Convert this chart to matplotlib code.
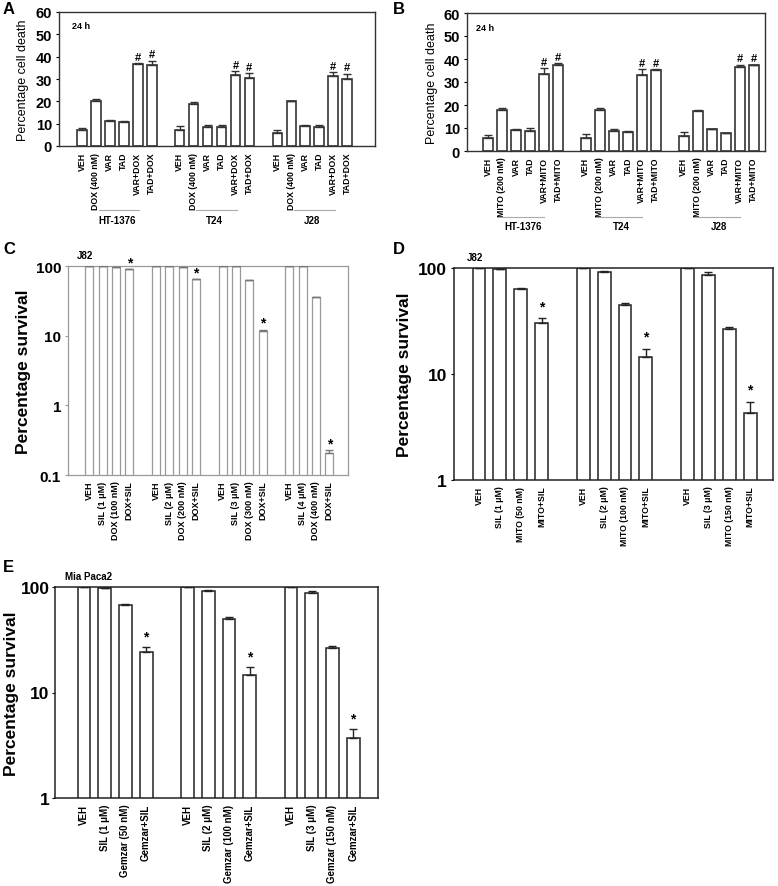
import matplotlib
matplotlib.use("Agg")
import matplotlib.pyplot as plt
import numpy as np

plt.rcParams['font.family'] = ['Liberation Sans', 'DejaVu Sans']
plt.rcParams['font.weight'] = 'bold'

W, H = 778, 887

# ---------------- data ----------------
groups_a = ["HT-1376", "T24", "J28"]
labels_a = ["VEH", "DOX (400 nM)", "VAR", "TAD", "VAR+DOX", "TAD+DOX"]
vals_a = [[7.0, 20.3, 11.0, 10.8, 36.8, 36.4],
          [7.0, 19.0, 8.7, 8.7, 31.7, 30.4],
          [5.8, 20.0, 9.0, 8.7, 31.2, 30.1]]
errs_a = [[1.1, 0.7, 0.5, 0.4, 0.4, 1.8],
          [2.0, 0.5, 0.8, 0.8, 1.7, 2.3],
          [1.5, 0.2, 0.3, 0.8, 1.8, 2.3]]

labels_b = ["VEH", "MITO (200 nM)", "VAR", "TAD", "VAR+MITO", "TAD+MITO"]
vals_b = [[5.8, 17.8, 9.2, 8.8, 33.5, 37.5],
          [5.8, 17.7, 8.8, 8.1, 33.0, 35.4],
          [6.5, 17.5, 9.5, 7.8, 36.4, 37.4]]
errs_b = [[1.2, 0.8, 0.3, 1.2, 2.5, 0.8],
          [1.8, 1.0, 0.7, 0.5, 2.5, 0.2],
          [1.8, 0.5, 0.2, 0.2, 1.2, 0.2]]

labels_c = [["VEH", "SIL (1 \u03bcM)", "DOX (100 nM)", "DOX+SIL"],
            ["VEH", "SIL (2 \u03bcM)", "DOX (200 nM)", "DOX+SIL"],
            ["VEH", "SIL (3 \u03bcM)", "DOX (300 nM)", "DOX+SIL"],
            ["VEH", "SIL (4 \u03bcM)", "DOX (400 nM)", "DOX+SIL"]]
vals_c = [[99, 99, 98, 90],
          [99, 99, 96, 65],
          [99, 99, 63, 11.8],
          [99, 99, 36, 0.21]]
errs_c = [[0, 0, 0, 0],
          [0, 0, 1, 0],
          [0, 0, 0, 0.4],
          [0, 0, 0, 0.015]]

labels_d = [["VEH", "SIL (1 \u03bcM)", "MITO (50 nM)", "MITO+SIL"],
            ["VEH", "SIL (2 \u03bcM)", "MITO (100 nM)", "MITO+SIL"],
            ["VEH", "SIL (3 \u03bcM)", "MITO (150 nM)", "MITO+SIL"]]
vals_d = [[100, 97, 63, 30.5],
          [100, 91, 45, 14.5],
          [100, 86, 26.5, 4.3]]
errs_d = [[0, 0.5, 1.2, 3.0],
          [0, 3.0, 2.2, 2.8],
          [0, 5.0, 1.2, 1.2]]

labels_e = [["VEH", "SIL (1 \u03bcM)", "Gemzar (50 nM)", "Gemzar+SIL"],
            ["VEH", "SIL (2 \u03bcM)", "Gemzar (100 nM)", "Gemzar+SIL"],
            ["VEH", "SIL (3 \u03bcM)", "Gemzar (150 nM)", "Gemzar+SIL"]]
vals_e = [[100, 97, 67, 24],
          [100, 92, 50, 14.5],
          [100, 87, 26.5, 3.7]]
errs_e = [[0, 0.8, 2.0, 3.0],
          [0, 2.0, 2.5, 2.8],
          [0, 5.0, 1.0, 0.8]]

fig = plt.figure(figsize=(W / 100, H / 100), dpi=100)


def add_ax(x0, y0, x1, y1):
    return fig.add_axes([x0 / W, 1 - y1 / H, (x1 - x0) / W, (y1 - y0) / H])


def positions(ngroups, nbars, gap):
    pos = []
    for g in range(ngroups):
        pos.append([g * (nbars + gap) + i for i in range(nbars)])
    return pos


def bar_panel(ax, pos, vals, errs, labels, width, edge, lw, errcolor, sig_idx,
              sig_text, sig_size, sig_off, logscale, label_size):
    for g in range(len(vals)):
        ax.bar(pos[g], vals[g], width=width, color='white', edgecolor=edge,
               linewidth=lw, zorder=2)
        ax.errorbar(pos[g], vals[g], yerr=[np.zeros(len(errs[g])), errs[g]],
                    fmt='none', ecolor=errcolor, elinewidth=1.0, capsize=3,
                    capthick=1.0, zorder=3)
        for i in sig_idx:
            top = vals[g][i] + errs[g][i]
            if logscale:
                y = top * sig_off
            else:
                y = top + sig_off
            ax.text(pos[g][i], y, sig_text, ha='center', va='bottom',
                    fontsize=sig_size, fontweight='bold')
    flat = [p for gp in pos for p in gp]
    flab = [l for gl in labels for l in gl]
    ax.set_xticks(flat)
    ax.set_xticklabels(flab, rotation=90, fontsize=label_size, fontweight='bold')
    ax.tick_params(axis='x', length=0, pad=4)


# ---------------- Panel A ----------------
axA = add_ax(59, 13, 375, 147)
posA = positions(3, 6, 1)
bar_panel(axA, posA, vals_a, errs_a, [labels_a] * 3, 0.68, '#333333', 1.2, '#333333',
          [4, 5], '#', 8, 0.6, False, 6.3)
axA.set_xlim(-1.65, 21.0)
axA.set_ylim(0, 60)
axA.set_yticks([0, 10, 20, 30, 40, 50, 60])
axA.tick_params(axis='y', length=2, labelsize=10.5, pad=3)
axA.set_ylabel("Percentage cell death", fontsize=9, fontweight='normal', labelpad=5)
axA.text(0.04, 0.93, "24 h", transform=axA.transAxes, fontsize=6.5,
         fontweight='bold', va='top')
for sp in axA.spines.values():
    sp.set_color('#333333')
    sp.set_linewidth(1.0)
for g in range(3):
    c = posA[g][0] + 2.5
    axA.plot([c - 1.3, c + 1.6], [-0.475 * 60, -0.475 * 60], color='#aaaaaa',
             lw=0.8, clip_on=False)
    axA.text(c, -0.515 * 60, groups_a[g], ha='center', va='top', fontsize=7,
             fontweight='bold')
fig.text(3 / W, 1 - 9 / H, "A", fontsize=12, fontweight='bold', va='center')

# ---------------- Panel B ----------------
axB = add_ax(467, 14, 765, 152)
posB = positions(3, 6, 1)
bar_panel(axB, posB, vals_b, errs_b, [labels_b] * 3, 0.68, '#333333', 1.2, '#333333',
          [4, 5], '#', 8, 0.6, False, 6.3)
axB.set_xlim(-1.5, 19.8)
axB.set_ylim(0, 60)
axB.set_yticks([0, 10, 20, 30, 40, 50, 60])
axB.tick_params(axis='y', length=2, labelsize=10.5, pad=3)
axB.set_ylabel("Percentage cell death", fontsize=9, fontweight='normal', labelpad=4)
axB.text(0.03, 0.93, "24 h", transform=axB.transAxes, fontsize=6.5,
         fontweight='bold', va='top')
for sp in axB.spines.values():
    sp.set_color('#333333')
    sp.set_linewidth(1.0)
for g in range(3):
    c = posB[g][0] + 2.5
    axB.plot([c - 1.5, c + 1.5], [-0.475 * 60, -0.475 * 60], color='#aaaaaa',
             lw=0.8, clip_on=False)
    axB.text(c, -0.51 * 60, groups_a[g], ha='center', va='top', fontsize=7,
             fontweight='bold')
fig.text(393 / W, 1 - 9 / H, "B", fontsize=12, fontweight='bold', va='center')

# ---------------- Panel C ----------------
axC = add_ax(68, 267, 348, 476)
posC = positions(4, 4, 1)
bar_panel(axC, posC, vals_c, errs_c, labels_c, 0.62, '#999999', 0.9, '#777777',
          [3], '*', 10, 1.0, True, 6.5)
axC.set_yscale('log')
axC.set_ylim(0.1, 100)
axC.set_xlim(-1.6, 19.4)
axC.set_yticks([0.1, 1, 10, 100])
axC.set_yticklabels(["0.1", "1", "10", "100"])
axC.yaxis.set_minor_locator(matplotlib.ticker.NullLocator())
axC.tick_params(axis='y', length=2, labelsize=11, pad=3, color='#999999')
axC.set_ylabel("Percentage survival", fontsize=12.5, fontweight='bold', labelpad=3)
for sp in axC.spines.values():
    sp.set_color('#999999')
    sp.set_linewidth(0.9)
axC.text(0.03, 1.03, "J82", transform=axC.transAxes, fontsize=7,
         fontweight='bold', va='bottom')
fig.text(3 / W, 1 - 250 / H, "C", fontsize=12, fontweight='bold', va='center')

# ---------------- Panel D ----------------
axD = add_ax(454, 269, 773, 481)
posD = positions(3, 4, 1)
bar_panel(axD, posD, vals_d, errs_d, labels_d, 0.62, '#222222', 1.1, '#222222',
          [3], '*', 10, 1.12, True, 6.3)
axD.set_yscale('log')
axD.set_ylim(1, 100)
axD.set_xlim(-1.2, 14.1)
axD.set_yticks([1, 10, 100])
axD.set_yticklabels(["1", "10", "100"])
axD.yaxis.set_minor_locator(matplotlib.ticker.NullLocator())
axD.tick_params(axis='y', length=2, labelsize=12.5, pad=3)
axD.set_ylabel("Percentage survival", fontsize=12.5, fontweight='bold', labelpad=4)
for sp in axD.spines.values():
    sp.set_color('#222222')
    sp.set_linewidth(1.1)
axD.text(0.04, 1.03, "J82", transform=axD.transAxes, fontsize=7,
         fontweight='bold', va='bottom')
fig.text(393 / W, 1 - 250 / H, "D", fontsize=12, fontweight='bold', va='center')

# ---------------- Panel E ----------------
axE = add_ax(55, 588, 378, 799)
posE = positions(3, 4, 1)
bar_panel(axE, posE, vals_e, errs_e, labels_e, 0.62, '#222222', 1.1, '#222222',
          [3], '*', 10, 1.08, True, 7)
axE.set_yscale('log')
axE.set_ylim(1, 100)
axE.set_xlim(-1.4, 14.2)
axE.set_yticks([1, 10, 100])
axE.set_yticklabels(["1", "10", "100"])
axE.yaxis.set_minor_locator(matplotlib.ticker.NullLocator())
axE.tick_params(axis='y', length=2, labelsize=12.5, pad=2)
axE.set_ylabel("Percentage survival", fontsize=12.5, fontweight='bold', labelpad=1)
for sp in axE.spines.values():
    sp.set_color('#222222')
    sp.set_linewidth(1.1)
axE.text(0.03, 1.03, "Mia Paca2", transform=axE.transAxes, fontsize=7,
         fontweight='bold', va='bottom')
fig.text(3 / W, 1 - 567 / H, "E", fontsize=12, fontweight='bold', va='center')

fig.savefig("out.png", dpi=100, facecolor='white')
